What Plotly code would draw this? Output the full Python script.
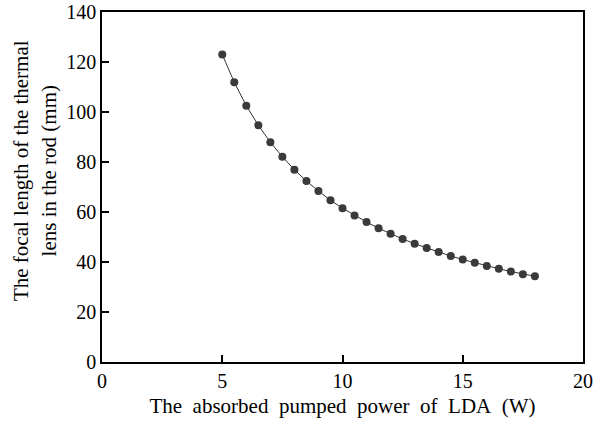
import plotly.graph_objects as go

power = [5, 5.5, 6, 6.5, 7, 7.5, 8, 8.5, 9, 9.5, 10, 10.5, 11, 11.5, 12, 12.5,
         13, 13.5, 14, 14.5, 15, 15.5, 16, 16.5, 17, 17.5, 18]
focal = [123.0, 111.9, 102.5, 94.7, 87.9, 82.1, 76.9, 72.4, 68.4, 64.7, 61.5,
         58.6, 56.0, 53.5, 51.3, 49.2, 47.3, 45.6, 44.0, 42.4, 41.0, 39.7,
         38.4, 37.3, 36.2, 35.1, 34.3]

x_ticks = [0, 5, 10, 15, 20]
y_ticks = [0, 20, 40, 60, 80, 100, 120, 140]

fam = "Liberation Serif, Times New Roman, serif"
tick_font = dict(family=fam, size=20, color="black")
xtitle_font = dict(family=fam, size=21, color="black")
ytitle_font = dict(family=fam, size=21, color="black")

fig = go.Figure()
fig.add_trace(go.Scatter(
    x=power, y=focal, mode="lines+markers",
    line=dict(color="#333333", width=1),
    marker=dict(color="#3a3a3a", size=8),
    showlegend=False,
))

sp = "\u00a0 "
xtitle = sp.join("The absorbed pumped power of LDA (W)".split(" "))

fig.update_layout(
    width=594, height=424,
    margin=dict(l=102, r=11, t=12, b=62),
    paper_bgcolor="white", plot_bgcolor="white",
    font=tick_font,
    xaxis=dict(range=[0, 20], tickvals=x_ticks, ticks="inside", ticklen=7,
               tickcolor="black", tickwidth=1.5, showline=True, linecolor="black",
               linewidth=1.5, mirror=True, showgrid=False, zeroline=False,
               automargin=False, tickfont=tick_font,
               title=dict(text=xtitle, font=xtitle_font, standoff=8)),
    yaxis=dict(range=[0, 140], tickvals=y_ticks, ticks="inside", ticklen=7,
               tickcolor="black", tickwidth=1.5, showline=True, linecolor="black",
               linewidth=1.5, mirror=True, showgrid=False, zeroline=False,
               automargin=False, tickfont=tick_font),
    annotations=[dict(
        text="The focal length of the thermal<br>lens in the rod (mm)",
        xref="paper", yref="paper", x=-0.139, y=0.546,
        xanchor="center", yanchor="middle", textangle=-90,
        showarrow=False, font=ytitle_font,
    )],
)

fig.write_html("out.html", config={"displayModeBar": False},
               post_script="document.body.style.margin='0';document.body.style.overflow='hidden';")
